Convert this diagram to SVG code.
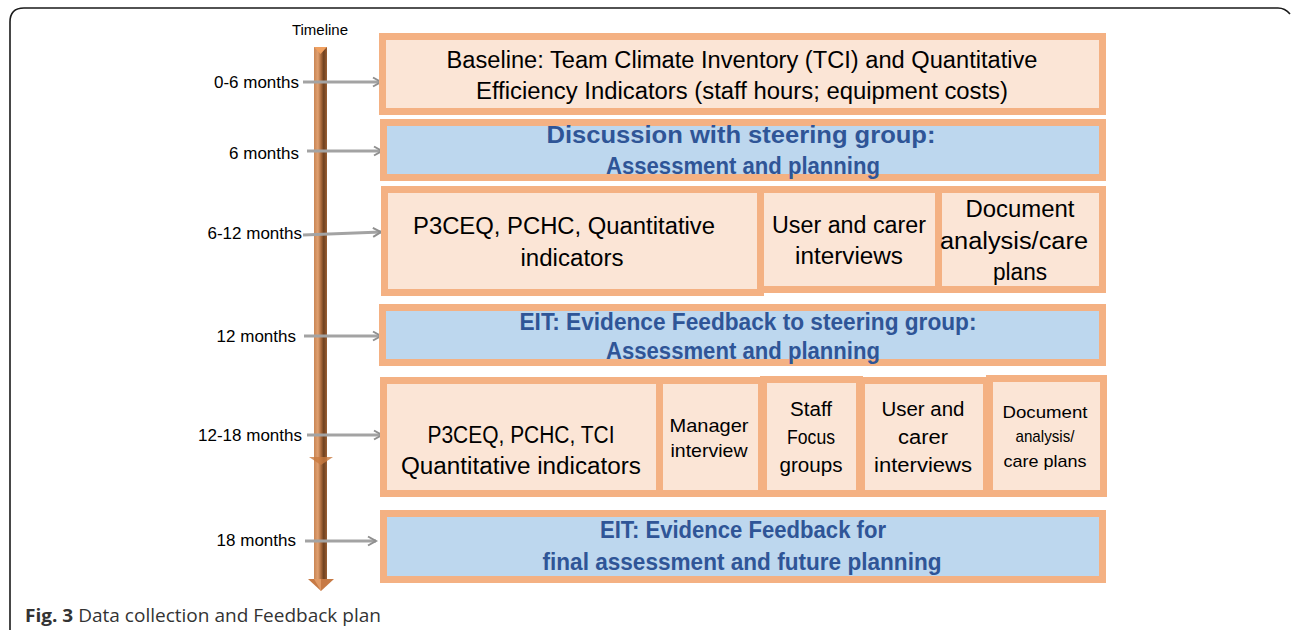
<svg xmlns="http://www.w3.org/2000/svg" width="1292" height="634" viewBox="0 0 1292 634">
<defs>
<style>
.frame{fill:none;stroke:#1a1a1a;stroke-width:1.6}
.pe{fill:#fbe5d6;stroke:#f4b183;stroke-width:7}
.bl{fill:#bdd7ee;stroke:#f4b183;stroke-width:7}
.lbl{font-family:"Liberation Sans",Arial,sans-serif;font-size:17px;fill:#000;text-anchor:end}
.t{font-family:"Liberation Sans",Arial,sans-serif;fill:#000;text-anchor:middle}
.b{font-family:"Liberation Sans",Arial,sans-serif;font-weight:bold;fill:#2f5597;text-anchor:middle}
.cap{font-family:"Open Sans","Liberation Sans",sans-serif;font-size:18.5px;fill:#333}
.arr{stroke:#a3a3a3;stroke-width:3;fill:none;marker-end:url(#chev)}
</style>
<marker id="chev" markerWidth="12" markerHeight="12" refX="9" refY="6" orient="auto" markerUnits="userSpaceOnUse">
<polyline points="1,1.5 9,6 1,10.5" fill="none" stroke="#8f8f8f" stroke-width="2"/>
</marker>
<linearGradient id="stick" x1="0" y1="0" x2="1" y2="0">
<stop offset="0" stop-color="#c98655"/>
<stop offset="0.3" stop-color="#e0a070"/>
<stop offset="0.55" stop-color="#a8683a"/>
<stop offset="0.75" stop-color="#6e4120"/>
<stop offset="1" stop-color="#9c5f33"/>
</linearGradient>
</defs>
<rect width="1292" height="634" fill="#fff"/>
<path class="frame" d="M10,630 L10,22 Q10,8 24,8 L1278,8 Q1285,8 1290,14"/>

<g id="timeline">
<text x="320" y="35" font-family="Liberation Sans,Arial,sans-serif" font-size="15" text-anchor="middle">Timeline</text>
<rect x="314" y="47" width="13" height="533" fill="url(#stick)"/>
<polygon points="314,47 327,47 320.5,54" fill="#f0a060"/>
<polygon points="309,457 333,457 321,465" fill="#c97a40" opacity="0.8"/>
<polygon points="308,579 334,579 321,591" fill="#c77a45"/>
<polygon points="314,579 321,591 321,579" fill="#e09a66"/>
</g>

<g id="labels">
<text class="lbl" x="299" y="88">0-6 months</text>
<text class="lbl" x="299" y="159">6 months</text>
<text class="lbl" x="302" y="239">6-12 months</text>
<text class="lbl" x="296" y="342">12 months</text>
<text class="lbl" x="302" y="441">12-18 months</text>
<text class="lbl" x="296" y="546">18 months</text>
</g>

<g id="connectors">
<line class="arr" x1="303" y1="82" x2="381" y2="82"/>
<line class="arr" x1="307" y1="151" x2="382" y2="151"/>
<line class="arr" x1="303" y1="235" x2="381" y2="232"/>
<line class="arr" x1="304" y1="336" x2="381" y2="336"/>
<line class="arr" x1="307" y1="435" x2="382" y2="435"/>
<line class="arr" x1="305" y1="541" x2="376" y2="541"/>
</g>

<g id="baseline">
<rect class="pe" x="382.5" y="36.5" width="720" height="75"/>
<text class="t" font-size="23" x="742" y="68" textLength="591" lengthAdjust="spacingAndGlyphs">Baseline: Team Climate Inventory (TCI) and Quantitative</text>
<text class="t" font-size="23" x="742" y="99" textLength="532" lengthAdjust="spacingAndGlyphs">Efficiency Indicators (staff hours; equipment costs)</text>
</g>

<g id="discussion">
<rect class="bl" x="383.5" y="122.5" width="719" height="55"/>
<text class="b" font-size="23" x="741" y="143" textLength="389" lengthAdjust="spacingAndGlyphs">Discussion with steering group:</text>
<text class="b" font-size="23" x="743" y="174" textLength="274" lengthAdjust="spacingAndGlyphs">Assessment and planning</text>
</g>

<g id="p3ceq1">
<rect class="pe" x="384.5" y="189.5" width="376" height="103"/>
<text class="t" font-size="23" x="564" y="234" textLength="302" lengthAdjust="spacingAndGlyphs">P3CEQ, PCHC, Quantitative</text>
<text class="t" font-size="23" x="572" y="266" textLength="103" lengthAdjust="spacingAndGlyphs">indicators</text>
</g>
<g id="user1">
<rect class="pe" x="760.5" y="189.5" width="178" height="100"/>
<text class="t" font-size="23" x="849" y="233" textLength="154" lengthAdjust="spacingAndGlyphs">User and carer</text>
<text class="t" font-size="23" x="849" y="264" textLength="108" lengthAdjust="spacingAndGlyphs">interviews</text>
</g>
<g id="doc1">
<rect class="pe" x="938.5" y="189.5" width="164" height="100"/>
<text class="t" font-size="23" x="1020" y="217" textLength="109" lengthAdjust="spacingAndGlyphs">Document</text>
<text class="t" font-size="23" x="1014" y="249" textLength="148" lengthAdjust="spacingAndGlyphs">analysis/care</text>
<text class="t" font-size="23" x="1020" y="280" textLength="54" lengthAdjust="spacingAndGlyphs">plans</text>
</g>

<g id="eit1">
<rect class="bl" x="382.5" y="307.5" width="720" height="55"/>
<text class="b" font-size="23" x="748" y="330" textLength="457" lengthAdjust="spacingAndGlyphs">EIT: Evidence Feedback to steering group:</text>
<text class="b" font-size="23" x="743" y="359" textLength="274" lengthAdjust="spacingAndGlyphs">Assessment and planning</text>
</g>

<g id="p3ceq2">
<rect class="pe" x="383.5" y="380.5" width="276" height="113"/>
<text class="t" font-size="23" x="521" y="443" textLength="187" lengthAdjust="spacingAndGlyphs">P3CEQ, PCHC, TCI</text>
<text class="t" font-size="23" x="521" y="474" textLength="240" lengthAdjust="spacingAndGlyphs">Quantitative indicators</text>
</g>
<g id="manager">
<rect class="pe" x="659.5" y="380.5" width="102" height="113"/>
<text class="t" font-size="19" x="709" y="432" textLength="79" lengthAdjust="spacingAndGlyphs">Manager</text>
<text class="t" font-size="19" x="709" y="457" textLength="77" lengthAdjust="spacingAndGlyphs">interview</text>
</g>
<g id="staff">
<rect class="pe" x="763.5" y="379.5" width="96" height="114"/>
<text class="t" font-size="20" x="811" y="416" textLength="42" lengthAdjust="spacingAndGlyphs">Staff</text>
<text class="t" font-size="20" x="811" y="444" textLength="48" lengthAdjust="spacingAndGlyphs">Focus</text>
<text class="t" font-size="20" x="811" y="472" textLength="63" lengthAdjust="spacingAndGlyphs">groups</text>
</g>
<g id="user2">
<rect class="pe" x="861.5" y="380.5" width="125" height="113"/>
<text class="t" font-size="20" x="923" y="416" textLength="83" lengthAdjust="spacingAndGlyphs">User and</text>
<text class="t" font-size="20" x="923" y="444" textLength="50" lengthAdjust="spacingAndGlyphs">carer</text>
<text class="t" font-size="20" x="923" y="472" textLength="98" lengthAdjust="spacingAndGlyphs">interviews</text>
</g>
<g id="doc2">
<rect class="pe" x="989.5" y="378.5" width="114" height="115"/>
<text class="t" font-size="17" x="1045" y="418" textLength="85" lengthAdjust="spacingAndGlyphs">Document</text>
<text class="t" font-size="17" x="1045" y="442" textLength="59" lengthAdjust="spacingAndGlyphs">analysis/</text>
<text class="t" font-size="17" x="1045" y="467" textLength="83" lengthAdjust="spacingAndGlyphs">care plans</text>
</g>

<g id="eit2">
<rect class="bl" x="383.5" y="513.5" width="719" height="66"/>
<text class="b" font-size="23" x="743" y="538" textLength="286" lengthAdjust="spacingAndGlyphs">EIT: Evidence Feedback for</text>
<text class="b" font-size="23" x="742" y="570" textLength="399" lengthAdjust="spacingAndGlyphs">final assessment and future planning</text>
</g>

<text class="cap" x="25" y="622" textLength="356" lengthAdjust="spacingAndGlyphs"><tspan font-weight="bold">Fig. 3</tspan> Data collection and Feedback plan</text>
</svg>
